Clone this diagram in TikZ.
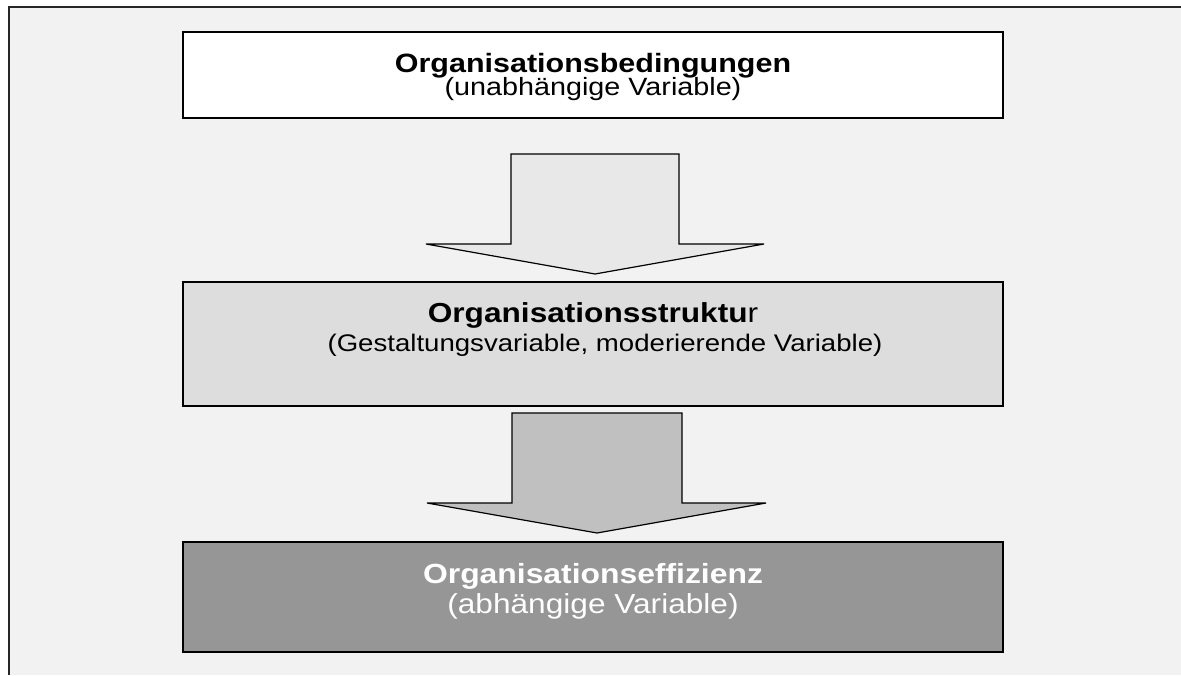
\documentclass[tikz,border=0pt]{standalone}
\usepackage{fontspec}
\setmainfont{Liberation Sans}[FakeStretch=1.15]
\definecolor{bggray}{HTML}{F2F2F2}
\definecolor{boxlight}{HTML}{DDDDDD}
\definecolor{boxdark}{HTML}{969696}
\definecolor{arrlight}{HTML}{E8E8E8}
\definecolor{arrdark}{HTML}{C0C0C0}
\tikzset{
  stufe/.style={draw=black, line width=1.5pt, minimum width=820pt, inner sep=0pt},
  blockpfeil/.style={draw=black, line width=1.2pt, line join=miter},
  zeile/.style={anchor=base, inner sep=0pt, font=\fontsize{#1}{#1}\selectfont}
}
\begin{document}
\begin{tikzpicture}[x=1pt, y=-1pt]
			\useasboundingbox (0,0) rectangle (1181,675);
			% Rahmen
			\fill[bggray] (9,7) rectangle (1181,675);
			\draw[line width=2pt, black!85] (9,675) -- (9,7) -- (1181,7);
			% Stufen
			\node[stufe, fill=white, minimum height=86pt] (bed) at (593,75) {};
			\node[stufe, fill=boxlight, minimum height=124pt] (struk) at (593,344) {};
			\node[stufe, fill=boxdark, minimum height=110pt] (eff) at (593,597) {};
			% Pfeile
			\draw[blockpfeil, fill=arrlight] (511,154) -- (679,154) -- (679,244) -- (764,244) -- (595,274) -- (426,244) -- (511,244) -- cycle;
			\draw[blockpfeil, fill=arrdark] (512,413) -- (682,413) -- (682,503) -- (766,503) -- (597,533) -- (427,503) -- (512,503) -- cycle;
			% Texte
			\node[zeile=26.5] (bed1) at (bed.center |- 0,72) {\textbf{Organisationsbedingungen}};
			\node[zeile=25] (bed2) at (bed.center |- 0,95) {(unabhängige Variable)};
			\node[zeile=27.5] (struk1) at (struk.center |- 0,322) {\textbf{Organisationsstruktu}r};
			\node[zeile=24] (struk2) at ([xshift=12pt]struk.center |- 0,351) {(Gestaltungsvariable, moderierende Variable)};
			\node[zeile=27.7, white] (eff1) at (eff.center |- 0,583) {\textbf{Organisationseffizienz}};
			\node[zeile=27.5, white] (eff2) at (eff.center |- 0,613) {(abhängige Variable)};
\end{tikzpicture}
\end{document}
